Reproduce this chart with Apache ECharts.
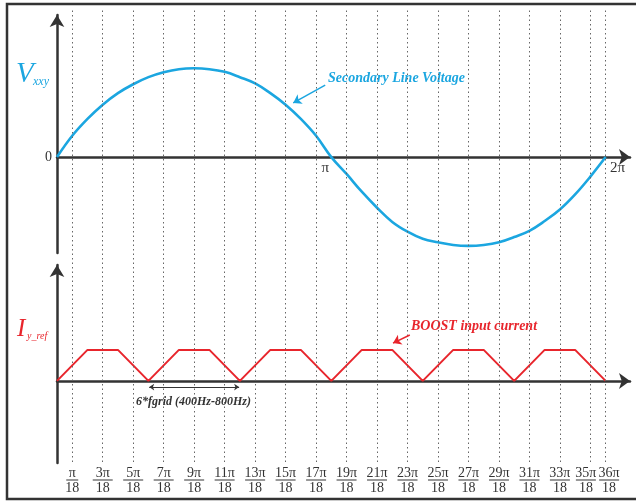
<!DOCTYPE html>
<html>
<head>
<meta charset="utf-8">
<script src="https://cdn.jsdelivr.net/npm/echarts@6/dist/echarts.min.js"></script>
<style>
  html, body { margin: 0; padding: 0; background: #fff; }
  #chart { width: 636px; height: 502px; }
</style>
</head>
<body>
<div id="chart"></div>
<script>
// angle in units of pi/18
const vAngle = [0, 1, 2, 3, 4, 5, 6, 7, 8, 9, 10, 11, 12, 13, 14, 15, 16, 17, 18,
  19, 20, 21, 22, 23, 24, 25, 26, 27, 28, 29, 30, 31, 32, 33, 34, 35, 36];
const vValues = [0, 0.24, 0.43, 0.59, 0.72, 0.82, 0.9, 0.955, 0.99, 1.0, 0.99, 0.96, 0.9, 0.83, 0.72, 0.59, 0.43, 0.24, 0,
  -0.19, -0.39, -0.57, -0.73, -0.84, -0.92, -0.96, -0.99, -1.0, -0.99, -0.96, -0.9, -0.83, -0.72, -0.59, -0.42, -0.22, 0];

const iAngle = [0, 2, 4, 6, 8, 10, 12, 14, 16, 18, 20, 22, 24, 26, 28, 30, 32, 34, 36];
const iValues = [0, 1, 1, 0, 1, 1, 0, 1, 1, 0, 1, 1, 0, 1, 1, 0, 1, 1, 0];

const gridTicks = [1, 3, 5, 7, 9, 11, 13, 15, 17, 19, 21, 23, 25, 27, 29, 31, 33, 35, 36];
const gridNums = ['π', '3π', '5π', '7π', '9π', '11π', '13π', '15π', '17π', '19π',
  '21π', '23π', '25π', '27π', '29π', '31π', '33π', '35π', '36π'];
const gridDen = '18';

const cycleTicks = [18, 36];
const cycleLabels = ['π', '2π'];

const serif = "'Liberation Serif', 'DejaVu Serif', serif";
const blue = '#1BA6E0';
const red = '#E8252C';
const ink = '#333';
const xMax = 37.6;

// axis ranges (the x axis sits on zero, labels follow it)
const vMin = -1.08, vMax = 1.6, vGridH = 238;
const iMin = -2.65, iMax = 3.74, iGridH = 198;

const chart = echarts.init(document.getElementById('chart'));

const axisArrowX = { show: true, onZero: false, symbol: ['none', 'arrow'], symbolSize: [12, 11], lineStyle: { color: ink, width: 2.5 } };
const axisArrowY = { show: true, symbol: ['none', 'arrow'], symbolSize: [11, 12], lineStyle: { color: ink, width: 2.5 } };

// shift the two crowded last labels apart with a blank spacer
function frac(n, i) {
  const bar = n.length > 1 ? 'w' : 's';
  let pre = '', post = '';
  if (i === gridNums.length - 2) post = '{g| }';
  if (i === gridNums.length - 1) pre = '{h| }';
  return pre + '{n|' + n + '}' + post + '\n' + pre + '{' + bar + '| }' + post + '\n' + pre + '{d|' + gridDen + '}' + post;
}

const option = {
  animation: false,
  backgroundColor: '#fff',
  grid: [
    { left: 57, right: 6, top: 15, height: vGridH },
    { left: 57, right: 6, top: 265, height: iGridH },
    { left: 57, right: 6, top: 10, height: 452 }
  ],
  xAxis: [
    {
      gridIndex: 0, type: 'value', min: 0, max: xMax, interval: 2, z: 2,
      offset: -vGridH * (-vMin) / (vMax - vMin),
      axisLine: axisArrowX, axisTick: { show: false }, splitLine: { show: false },
      axisLabel: {
        margin: 3,
        formatter: v => {
          const i = cycleTicks.indexOf(v);
          if (i < 0) return '';
          return i === 0 ? '{a|' + cycleLabels[i] + '}' : '{b|' + cycleLabels[i] + '}';
        },
        rich: {
          a: { fontFamily: serif, fontSize: 15, color: ink, padding: [0, 12, 0, 0] },
          b: { fontFamily: serif, fontSize: 15, color: ink, padding: [0, 0, 0, 24] }
        }
      }
    },
    {
      gridIndex: 1, type: 'value', min: 0, max: xMax, z: 2,
      offset: -iGridH * (-iMin) / (iMax - iMin),
      axisLine: axisArrowX, axisTick: { show: false }, splitLine: { show: false },
      axisLabel: { show: false }
    },
    {
      gridIndex: 2, type: 'value', min: 0, max: xMax, interval: 1,
      axisLine: { show: false }, axisTick: { show: false }, splitLine: { show: false },
      axisLabel: {
        margin: 5,
        formatter: v => {
          const i = gridTicks.indexOf(v);
          return i < 0 ? '' : frac(gridNums[i], i);
        },
        rich: {
          n: { fontFamily: serif, fontSize: 14, lineHeight: 12, color: ink },
          d: { fontFamily: serif, fontSize: 14, lineHeight: 14, color: ink },
          s: { width: 12, height: 1, lineHeight: 2, backgroundColor: ink },
          w: { width: 20, height: 1, lineHeight: 2, backgroundColor: ink },
          g: { width: 9, fontSize: 1, lineHeight: 1 },
          h: { width: 7, fontSize: 1, lineHeight: 1 }
        }
      }
    }
  ],
  yAxis: [
    {
      gridIndex: 0, type: 'value', min: vMin, max: vMax, z: 2,
      axisLine: axisArrowY, axisTick: { show: false }, splitLine: { show: false },
      axisLabel: {
        margin: 5, fontFamily: serif, fontSize: 14, color: ink,
        formatter: v => (v === 0 ? '0' : '')
      }
    },
    {
      gridIndex: 1, type: 'value', min: iMin, max: iMax, z: 2,
      axisLine: axisArrowY, axisTick: { show: false }, splitLine: { show: false },
      axisLabel: { show: false }
    },
    {
      gridIndex: 2, type: 'value', min: 0, max: 1, show: false
    }
  ],
  graphic: [
    {
      type: 'rect', z: 100,
      shape: { x: 7, y: 4, width: 660, height: 495 },
      style: { fill: 'none', stroke: ink, lineWidth: 2.5 }
    },
    {
      type: 'text', left: 16, top: 60,
      style: { text: 'V', fontFamily: serif, fontStyle: 'italic', fontSize: 29, fill: blue }
    },
    {
      type: 'text', left: 33, top: 76,
      style: { text: 'xxy', fontFamily: serif, fontStyle: 'italic', fontSize: 12, fill: blue }
    },
    {
      type: 'text', left: 17, top: 317,
      style: { text: 'I', fontFamily: serif, fontStyle: 'italic', fontSize: 25, fill: red }
    },
    {
      type: 'text', left: 27, top: 331,
      style: { text: 'y_ref', fontFamily: serif, fontStyle: 'italic', fontSize: 10, fill: red }
    },
    {
      type: 'text', left: 328, top: 71,
      style: { text: 'Secondary Line Voltage', fontFamily: serif, fontStyle: 'italic', fontWeight: 'bold', fontSize: 14, fill: blue }
    },
    {
      type: 'text', left: 411, top: 319,
      style: { text: 'BOOST input current', fontFamily: serif, fontStyle: 'italic', fontWeight: 'bold', fontSize: 14, fill: red }
    },
    {
      type: 'text', left: 136, top: 396,
      style: { text: '6*fgrid (400Hz-800Hz)', fontFamily: serif, fontStyle: 'italic', fontWeight: 'bold', fontSize: 12, fill: ink }
    }
  ],
  series: [
    {
      name: 'grid', type: 'line', xAxisIndex: 2, yAxisIndex: 2, z: 1,
      data: [[0, 0]], symbol: 'none', lineStyle: { width: 0 }, silent: true,
      markLine: {
        silent: true, symbol: 'none', label: { show: false },
        lineStyle: { type: [1.5, 3], color: '#666', width: 1 },
        emphasis: { disabled: true },
        data: gridTicks.map(v => ({ xAxis: v }))
      }
    },
    {
      name: 'Secondary Line Voltage', type: 'line', xAxisIndex: 0, yAxisIndex: 0, z: 3,
      data: vAngle.map((a, i) => [a, vValues[i]]),
      smooth: 0.4, symbol: 'none',
      lineStyle: { color: blue, width: 2.6 },
      markLine: {
        silent: true, symbol: ['none', 'arrow'], symbolSize: 8, label: { show: false },
        lineStyle: { type: 'solid', color: blue, width: 1.5 },
        data: [[{ coord: [17.6, 0.81] }, { coord: [15.5, 0.61] }]]
      }
    },
    {
      name: 'BOOST input current', type: 'line', xAxisIndex: 1, yAxisIndex: 1, z: 3,
      data: iAngle.map((a, i) => [a, iValues[i]]),
      symbol: 'none',
      lineStyle: { color: red, width: 2 },
      markLine: {
        silent: true, label: { show: false },
        data: [
          [
            { coord: [23.15, 1.48], symbol: 'none', lineStyle: { color: red, width: 1.5, type: 'solid' } },
            { coord: [22.05, 1.22], symbol: 'arrow', symbolSize: 8 }
          ],
          [
            { coord: [6.05, -0.2], symbol: 'arrow', symbolSize: 5, lineStyle: { color: ink, width: 1, type: 'solid' } },
            { coord: [11.95, -0.2], symbol: 'arrow', symbolSize: 5 }
          ]
        ]
      }
    }
  ]
};

chart.setOption(option);
window.addEventListener('resize', () => chart.resize());
</script>
</body>
</html>
